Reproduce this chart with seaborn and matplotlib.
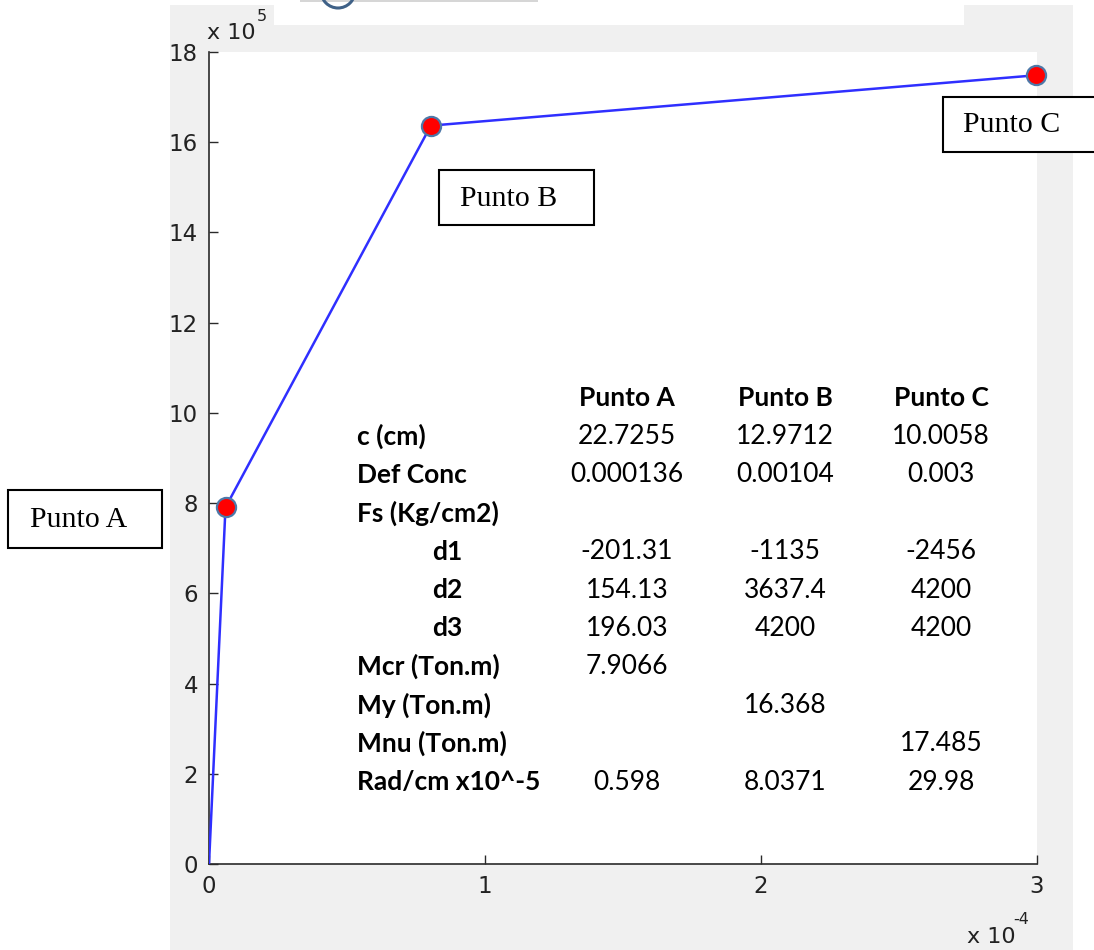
import matplotlib
matplotlib.use("Agg")
import matplotlib.pyplot as plt
import pandas as pd
import seaborn as sns
from matplotlib.patches import Rectangle, Arc
from matplotlib.ticker import FixedLocator, FixedFormatter

# Moment-curvature points
puntos = ["Punto A", "Punto B", "Punto C"]
curvatura_e5 = [0.598, 8.0371, 29.98]      # rad/cm x 10^-5
momento_tonm = [7.9066, 16.368, 17.485]    # Ton.m

# Axis ticks (scaled units)
x_ticks = [0, 1, 2, 3]                     # x 10^-4
y_ticks = [0, 2, 4, 6, 8, 10, 12, 14, 16, 18]  # x 10^5

# Summary table
table_cols = ["Punto A", "Punto B", "Punto C"]
row_labels = ["c (cm)", "Def Conc", "Fs (Kg/cm2)", "d1", "d2", "d3",
              "Mcr (Ton.m)", "My (Ton.m)", "Mnu (Ton.m)", "Rad/cm x10^-5"]
col_a = ["22.7255", "0.000136", "", "-201.31", "154.13", "196.03", "7.9066", "", "", "0.598"]
col_b = ["12.9712", "0.00104", "", "-1135", "3637.4", "4200", "", "16.368", "", "8.0371"]
col_c = ["10.0058", "0.003", "", "-2456", "4200", "4200", "", "", "17.485", "29.98"]

W, H = 1094, 950
sns.set_theme(style="white")
plt.rcParams["font.family"] = ["DejaVu Sans"]
plt.rcParams["xtick.direction"] = "in"
plt.rcParams["ytick.direction"] = "in"
plt.rcParams["xtick.major.size"] = 6.5
plt.rcParams["ytick.major.size"] = 6.5

fig = plt.figure(figsize=(W / 100, H / 100), dpi=100, facecolor="white")


def fx(px):
    return px / W


def fy(py):
    return 1 - py / H


# Figure window background
fig.patches.append(Rectangle((fx(170), 0), fx(1073) - fx(170), fy(5), transform=fig.transFigure,
                             facecolor="#f0f0f0", edgecolor="none", zorder=-3))
fig.patches.append(Rectangle((fx(274), fy(25)), fx(964) - fx(274), fy(5) - fy(25), transform=fig.transFigure,
                             facecolor="white", edgecolor="none", zorder=-2))
fig.patches.append(Rectangle((fx(300), fy(2)), fx(538) - fx(300), fy(0) - fy(2), transform=fig.transFigure,
                             facecolor="#d6d6d6", edgecolor="none", zorder=-2))
fig.patches.append(Arc((fx(338), fy(-9)), 34 / W, 34 / H, theta1=180, theta2=360,
                       transform=fig.transFigure, color="#3f6187", lw=2.2, zorder=-1))

ax = fig.add_axes([fx(209), fy(864), fx(1037) - fx(209), fy(52) - fy(864)])
ax.set_zorder(1)
ax.set_facecolor("white")

df = pd.DataFrame({
    "curvatura": [0.0] + [c * 1e-5 for c in curvatura_e5],
    "momento": [0.0] + [m * 1e5 for m in momento_tonm],
})
sns.lineplot(data=df, x="curvatura", y="momento", color="#2f2fff", lw=1.8,
             sort=False, ax=ax, zorder=3)
sns.scatterplot(data=df.iloc[1:], x="curvatura", y="momento", s=190, color="#ff0000",
                edgecolor="#4d78a8", linewidth=1.6, ax=ax, zorder=5, clip_on=False)

ax.set_xlim(0, 3e-4)
ax.set_ylim(0, 18e5)
ax.set_xlabel("")
ax.set_ylabel("")

ax.xaxis.set_major_locator(FixedLocator([v * 1e-4 for v in x_ticks]))
ax.xaxis.set_major_formatter(FixedFormatter([str(v) for v in x_ticks]))
ax.yaxis.set_major_locator(FixedLocator([v * 1e5 for v in y_ticks]))
ax.yaxis.set_major_formatter(FixedFormatter([str(v) for v in y_ticks]))

for s in ["top", "right"]:
    ax.spines[s].set_visible(False)
for s in ["left", "bottom"]:
    ax.spines[s].set_color("#2a2a2a")
    ax.spines[s].set_linewidth(1.2)

ax.yaxis.set_ticks_position("left")
ax.xaxis.set_ticks_position("bottom")
ax.tick_params(axis="both", which="major", direction="in", length=6.5, width=1.0,
               color="#2a2a2a", labelsize=16.5, labelcolor="#222222")
ax.tick_params(axis="y", pad=8)
ax.tick_params(axis="x", pad=8)

# Exponent labels
tick_font = dict(family=["DejaVu Sans"], color="#222222")
fig.text(fx(207), fy(39), "x 10", fontsize=16, ha="left", va="baseline", **tick_font)
fig.text(fx(257), fy(21), "5", fontsize=11.5, ha="left", va="baseline", **tick_font)
fig.text(fx(967), fy(943), "x 10", fontsize=16, ha="left", va="baseline", **tick_font)
fig.text(fx(1013), fy(924), "-4", fontsize=11.5, ha="left", va="baseline", **tick_font)

# Point labels in boxes
serif = ["Liberation Serif", "DejaVu Serif"]
boxes = {
    "Punto A": (8, 490, 162, 548, 30),
    "Punto B": (439, 170, 594, 225, 460),
    "Punto C": (943, 97, 1100, 152, 963),
}
for name in puntos:
    x0, y0, x1, y1, tx = boxes[name]
    fig.patches.append(Rectangle((fx(x0), fy(y1)), fx(x1) - fx(x0), fy(y0) - fy(y1),
                                 transform=fig.transFigure, facecolor="white",
                                 edgecolor="black", lw=1.5, zorder=10))
    fig.text(fx(tx), fy((y0 + y1) / 2 + 1), name, fontsize=21.5, family=serif,
             color="black", ha="left", va="center", zorder=11)

# Table overlay
tfont = ["Lato", "DejaVu Sans"]
col_x = [627, 785, 941]
row_y0 = 398
row_dy = 38.4
for cx, head in zip(col_x, table_cols):
    fig.text(fx(cx), fy(row_y0), head, fontsize=19, family=tfont, weight="bold",
             ha="center", va="center", color="black", zorder=8)
for i, lab in enumerate(row_labels):
    y = row_y0 + row_dy * (i + 1)
    lx = 432 if lab in ("d1", "d2", "d3") else 357
    fig.text(fx(lx), fy(y), lab, fontsize=19, family=tfont, weight="bold",
             ha="left", va="center", color="black", zorder=8)
    for cx, col in zip(col_x, (col_a, col_b, col_c)):
        if col[i]:
            fig.text(fx(cx), fy(y), col[i], fontsize=19, family=tfont,
                     ha="center", va="center", color="black", zorder=8)

fig.savefig("out.png", dpi=100, facecolor="white")
